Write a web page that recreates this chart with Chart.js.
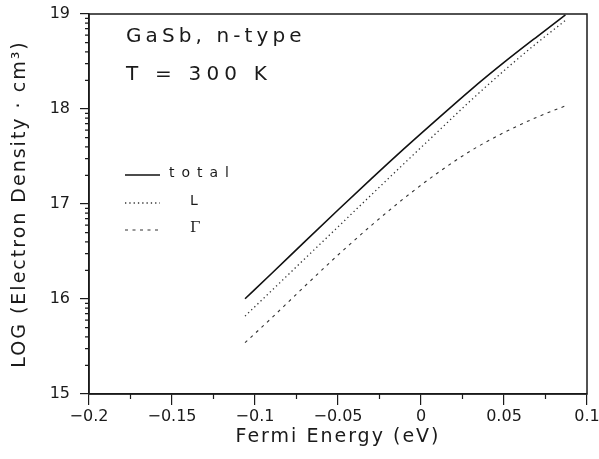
<!DOCTYPE html>
<html>
<head>
<meta charset="utf-8">
<script src="https://cdn.jsdelivr.net/npm/chart.js@4/dist/chart.umd.min.js"></script>
<style>
    body { margin: 0; background: #fff; }
    #wrap { width: 599px; height: 459px; }
</style>
</head>
<body>
<div id="wrap"><canvas id="density_chart" width="599" height="459"></canvas></div>
<script>
var fermiEnergy = [-0.106, -0.09, -0.07, -0.05, -0.03, -0.01, 0.01, 0.03, 0.05, 0.07, 0.087];
var logTotal = [16.003, 16.268, 16.604, 16.937, 17.264, 17.585, 17.896, 18.202, 18.49, 18.763, 18.99];
var logL = [15.82, 16.088, 16.424, 16.759, 17.095, 17.429, 17.76, 18.09, 18.403, 18.697, 18.932];
var logGamma = [15.54, 15.80, 16.135, 16.463, 16.773, 17.063, 17.327, 17.56, 17.752, 17.915, 18.033];
var seriesLabels = ['total', 'L', '\u0393'];
var xMinorTicks = [-0.175, -0.125, -0.075, -0.025, 0.025, 0.075];
var yDecades = [15, 16, 17, 18];

var fontName = '"DejaVu Sans", sans-serif';
var ink = '#1a1a1a';

function points(ys) {
    var out = [];
    for (var i = 0; i < fermiEnergy.length; i++) {
        out.push({x: fermiEnergy[i], y: ys[i]});
    }
    return out;
}

function fmtTick(v) {
    var s = String(Number(v.toFixed(3)));
    return s.replace('-', '\u2212');
}

// frame, minor ticks, legend and the text block in the corner
var decorPlugin = {
    id: 'decor',
    beforeDraw: function(chart) {
        // axis titles are drawn with the grid layer, tick labels later (ticks.z = 1)
        chart.ctx.letterSpacing = '2px';
    },
    beforeDatasetsDraw: function(chart) {
        chart.ctx.letterSpacing = '0px';
    },
    afterDraw: function(chart) {
        var ctx = chart.ctx;
        var area = chart.chartArea;
        var xs = chart.scales.x;
        var ys = chart.scales.y;
        ctx.save();
        ctx.strokeStyle = ink;
        ctx.lineWidth = 1.5;
        ctx.strokeRect(area.left, area.top, area.right - area.left, area.bottom - area.top);

        ctx.lineWidth = 1.2;
        ctx.beginPath();
        xMinorTicks.forEach(function(v) {
            var px = xs.getPixelForValue(v);
            ctx.moveTo(px, area.bottom);
            ctx.lineTo(px, area.bottom + 5);
        });
        yDecades.forEach(function(d) {
            for (var k = 2; k <= 9; k++) {
                var py = ys.getPixelForValue(d + Math.log10(k));
                ctx.moveTo(area.left, py);
                ctx.lineTo(area.left - 4, py);
            }
        });
        ctx.stroke();

        // legend
        var rows = [175, 203, 230];
        chart.data.datasets.forEach(function(ds, i) {
            ctx.save();
            ctx.strokeStyle = ds.borderColor;
            ctx.lineWidth = ds.borderWidth;
            ctx.setLineDash(ds.borderDash || []);
            ctx.beginPath();
            ctx.moveTo(125, rows[i]);
            ctx.lineTo(160, rows[i]);
            ctx.stroke();
            ctx.restore();
        });
        ctx.fillStyle = ink;
        ctx.textBaseline = 'alphabetic';
        ctx.textAlign = 'left';
        ctx.letterSpacing = '7px';
        ctx.font = '14px ' + fontName;
        ctx.fillText(seriesLabels[0], 169, 177);
        ctx.letterSpacing = '0px';
        ctx.fillText(seriesLabels[1], 190, 205);
        ctx.font = '15px "DejaVu Serif", serif';
        ctx.fillText(seriesLabels[2], 190, 232);

        ctx.font = '20px ' + fontName;
        ctx.letterSpacing = '4.1px';
        ctx.fillText('GaSb, n-type', 126, 42);
        ctx.letterSpacing = '5.2px';
        ctx.fillText('T = 300 K', 126, 80);
        ctx.restore();
    }
};

var ctx = document.getElementById('density_chart');
var myChart = new Chart(ctx, {
    type: 'line',
    data: {
        datasets: [{
            label: seriesLabels[0],
            data: points(logTotal),
            borderColor: '#111',
            borderWidth: 1.6,
        }, {
            label: seriesLabels[1],
            data: points(logL),
            borderColor: '#333',
            borderWidth: 1.3,
            borderDash: [1.3, 3],
        }, {
            label: seriesLabels[2],
            data: points(logGamma),
            borderColor: '#333',
            borderWidth: 1.1,
            borderDash: [3, 4.5],
        }]
    },
    options: {
        responsive: false,
        animation: false,
        cubicInterpolationMode: 'monotone',
        elements: {point: {radius: 0}},
        layout: {padding: {top: 14, right: 12, left: 0, bottom: 0}},
        plugins: {legend: {display: false}, tooltip: {enabled: false}},
        scales: {
            x: {
                type: 'linear',
                min: -0.2,
                max: 0.1,
                afterFit: function(s) {
                    s.height = 65;
                    s.paddingLeft = 0;
                    s.paddingRight = 0;
                },
                ticks: {
                    z: 1,
                    stepSize: 0.05,
                    padding: 2,
                    color: ink,
                    maxRotation: 0,
                    font: {family: fontName, size: 16},
                    callback: function(v) { return fmtTick(v); }
                },
                grid: {drawOnChartArea: false, tickLength: 11, color: ink, lineWidth: 1.2},
                border: {color: ink, width: 1.5},
                title: {
                    display: true,
                    text: 'Fermi Energy (eV)',
                    color: ink,
                    font: {family: fontName, size: 19},
                    padding: {top: 0, bottom: 11}
                }
            },
            y: {
                min: 15,
                max: 19,
                afterFit: function(s) {
                    s.width = 89;
                    s.paddingTop = 0;
                    s.paddingBottom = 0;
                },
                ticks: {
                    z: 1,
                    stepSize: 1,
                    padding: 10,
                    color: ink,
                    font: {family: fontName, size: 16}
                },
                grid: {drawOnChartArea: false, tickLength: 9, color: ink, lineWidth: 1.2},
                border: {color: ink, width: 1.5},
                title: {
                    display: true,
                    text: 'LOG (Electron Density \u00b7 cm\u00b3)',
                    color: ink,
                    font: {family: fontName, size: 19},
                    padding: {top: 9, bottom: 0}
                }
            }
        }
    },
    plugins: [decorPlugin]
});
</script>
</body>
</html>
